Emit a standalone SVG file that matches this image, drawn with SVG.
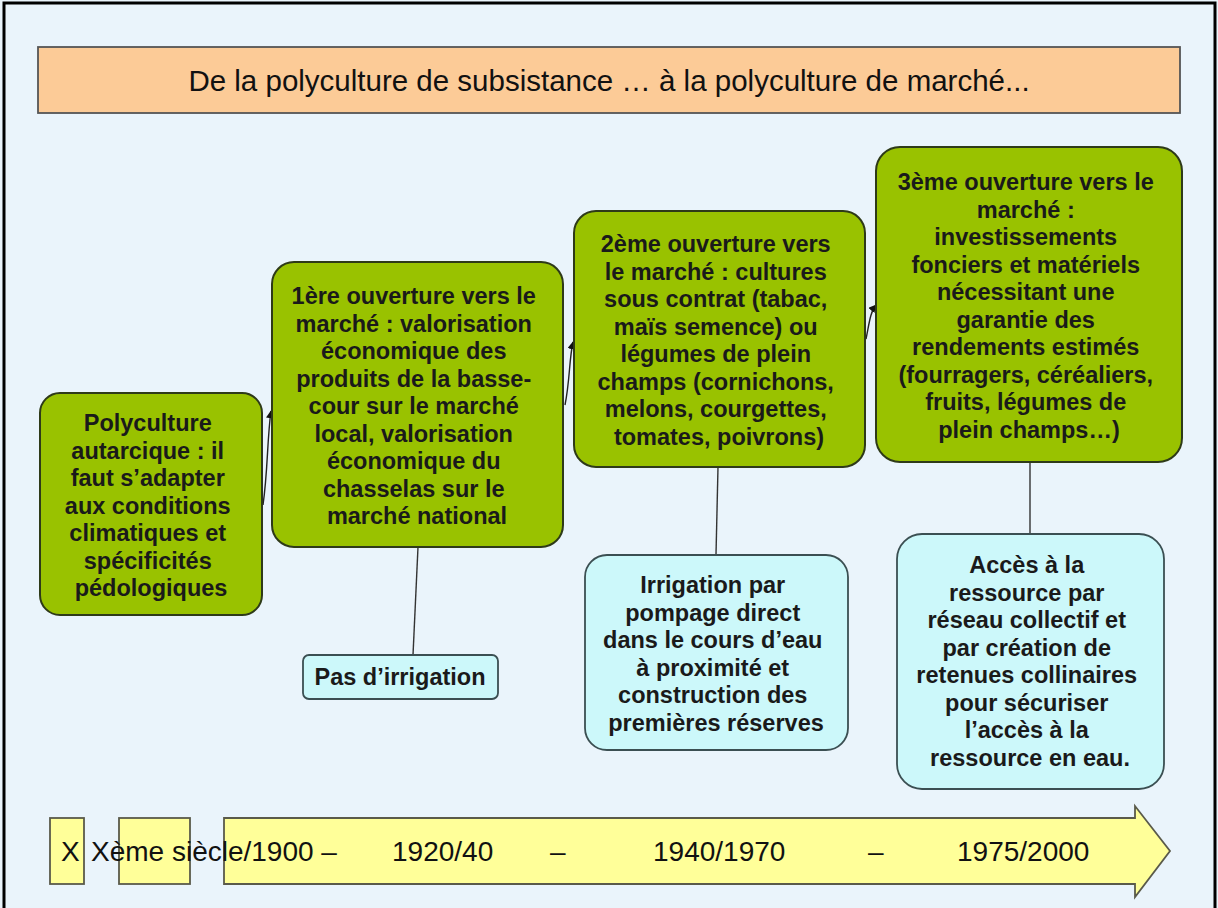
<svg xmlns="http://www.w3.org/2000/svg" width="1218" height="908" viewBox="0 0 1218 908">
<defs>
<style>
.bg{fill:#eaf4fb}
.frame{fill:none;stroke:#000;stroke-width:3}
.green{fill:#99c200;stroke:#2e3a18;stroke-width:2}
.blue{fill:#ccf8fa;stroke:#3b4f52;stroke-width:1.8}
.bt{font-family:"Liberation Sans",Arial,sans-serif;font-weight:bold;font-size:23.5px;fill:#1a1a1a;text-anchor:middle}
.rt{font-family:"Liberation Sans",Arial,sans-serif;font-size:28px;fill:#111}
.tt{font-family:"Liberation Sans",Arial,sans-serif;font-size:29.5px;fill:#111;text-anchor:middle}
.yel{fill:#ffff99;stroke:#5a5a4a;stroke-width:1.8}
.conn{fill:none;stroke:#222;stroke-width:1.4}
.line{fill:none;stroke:#333;stroke-width:1.4}
</style>
<marker id="ah" viewBox="0 0 10 10" refX="9" refY="5" markerWidth="8" markerHeight="8" orient="auto" markerUnits="userSpaceOnUse">
<path d="M0,0 L10,5 L0,10 Z" fill="#111"/>
</marker>
</defs>
<rect class="bg" x="0" y="0" width="1218" height="908"/>
<rect class="frame" x="4" y="3" width="1211" height="912"/>

<g id="title">
<rect x="38" y="47" width="1142" height="66" fill="#fccb97" stroke="#555" stroke-width="1.8"/>
<text class="tt" x="609" y="91">De la polyculture de subsistance … à la polyculture de marché...</text>
</g>

<g id="connectors">
<path class="conn" d="M263,505 C268,470 267,440 271,411" marker-end="url(#ah)"/>
<path class="conn" d="M565,405 C570,380 569,360 573,342" marker-end="url(#ah)"/>
<path class="conn" d="M866,339 C869,325 870,312 876,305" marker-end="url(#ah)"/>
<line class="line" x1="418" y1="547" x2="413" y2="655"/>
<line class="line" x1="718" y1="467" x2="716" y2="555"/>
<line class="line" x1="1030" y1="462" x2="1030" y2="534"/>
</g>

<g id="box1">
<rect class="green" x="40" y="393" width="222" height="222" rx="20"/>
<text class="bt">
<tspan x="151" y="431">Polyculture</tspan>
<tspan x="151" y="458.5">autarcique : il</tspan>
<tspan x="151" y="486">faut s’adapter</tspan>
<tspan x="151" y="513.5">aux conditions</tspan>
<tspan x="151" y="541">climatiques et</tspan>
<tspan x="151" y="568.5">spécificités</tspan>
<tspan x="151" y="596">pédologiques</tspan>
</text>
</g>

<g id="box2">
<rect class="green" x="272" y="262" width="291" height="285" rx="22"/>
<text class="bt">
<tspan x="417" y="304">1ère ouverture vers le</tspan>
<tspan x="417" y="331.5">marché : valorisation</tspan>
<tspan x="417" y="359">économique des</tspan>
<tspan x="417" y="386.5">produits de la basse-</tspan>
<tspan x="417" y="414">cour sur le marché</tspan>
<tspan x="417" y="441.5">local, valorisation</tspan>
<tspan x="417" y="469">économique du</tspan>
<tspan x="417" y="496.5">chasselas sur le</tspan>
<tspan x="417" y="524">marché national</tspan>
</text>
</g>

<g id="box3">
<rect class="green" x="574" y="211" width="291" height="256" rx="22"/>
<text class="bt">
<tspan x="719" y="252">2ème ouverture vers</tspan>
<tspan x="719" y="279.5">le marché : cultures</tspan>
<tspan x="719" y="307">sous contrat (tabac,</tspan>
<tspan x="719" y="334.5">maïs semence) ou</tspan>
<tspan x="719" y="362">légumes de plein</tspan>
<tspan x="719" y="389.5">champs (cornichons,</tspan>
<tspan x="719" y="417">melons, courgettes,</tspan>
<tspan x="719" y="444.5">tomates, poivrons)</tspan>
</text>
</g>

<g id="box4">
<rect class="green" x="876" y="147" width="306" height="315" rx="24"/>
<text class="bt">
<tspan x="1029" y="190">3ème ouverture vers le</tspan>
<tspan x="1029" y="217.5">marché :</tspan>
<tspan x="1029" y="245">investissements</tspan>
<tspan x="1029" y="272.5">fonciers et matériels</tspan>
<tspan x="1029" y="300">nécessitant une</tspan>
<tspan x="1029" y="327.5">garantie des</tspan>
<tspan x="1029" y="355">rendements estimés</tspan>
<tspan x="1029" y="382.5">(fourragers, céréaliers,</tspan>
<tspan x="1029" y="410">fruits, légumes de</tspan>
<tspan x="1029" y="437.5">plein champs…)</tspan>
</text>
</g>

<g id="irr1">
<rect class="blue" x="303" y="655" width="195" height="44" rx="6"/>
<text class="bt" x="400" y="685">Pas d’irrigation</text>
</g>

<g id="irr2">
<rect class="blue" x="585" y="555" width="263" height="195" rx="22"/>
<text class="bt">
<tspan x="716" y="593">Irrigation par</tspan>
<tspan x="716" y="620.5">pompage direct</tspan>
<tspan x="716" y="648">dans le cours d’eau</tspan>
<tspan x="716" y="675.5">à proximité et</tspan>
<tspan x="716" y="703">construction des</tspan>
<tspan x="716" y="730.5">premières réserves</tspan>
</text>
</g>

<g id="irr3">
<rect class="blue" x="897" y="534" width="267" height="255" rx="25"/>
<text class="bt">
<tspan x="1030" y="573">Accès à la</tspan>
<tspan x="1030" y="600.5">ressource par</tspan>
<tspan x="1030" y="628">réseau collectif et</tspan>
<tspan x="1030" y="655.5">par création de</tspan>
<tspan x="1030" y="683">retenues collinaires</tspan>
<tspan x="1030" y="710.5">pour sécuriser</tspan>
<tspan x="1030" y="738">l’accès à la</tspan>
<tspan x="1030" y="765.5">ressource en eau.</tspan>
</text>
</g>

<g id="timeline">
<rect class="yel" x="50" y="818" width="34" height="66"/>
<rect class="yel" x="119" y="818" width="71" height="66"/>
<polygon class="yel" points="224,818 1135,818 1135,806 1170,851 1135,897 1135,884 224,884"/>
<text class="rt" x="61" y="861">X</text>
<text class="rt" x="91" y="861">Xème siècle/1900 –</text>
<text class="rt" x="392" y="861">1920/40</text>
<text class="rt" x="550" y="861">–</text>
<text class="rt" x="653" y="861">1940/1970</text>
<text class="rt" x="868" y="861">–</text>
<text class="rt" x="957" y="861">1975/2000</text>
</g>
</svg>
